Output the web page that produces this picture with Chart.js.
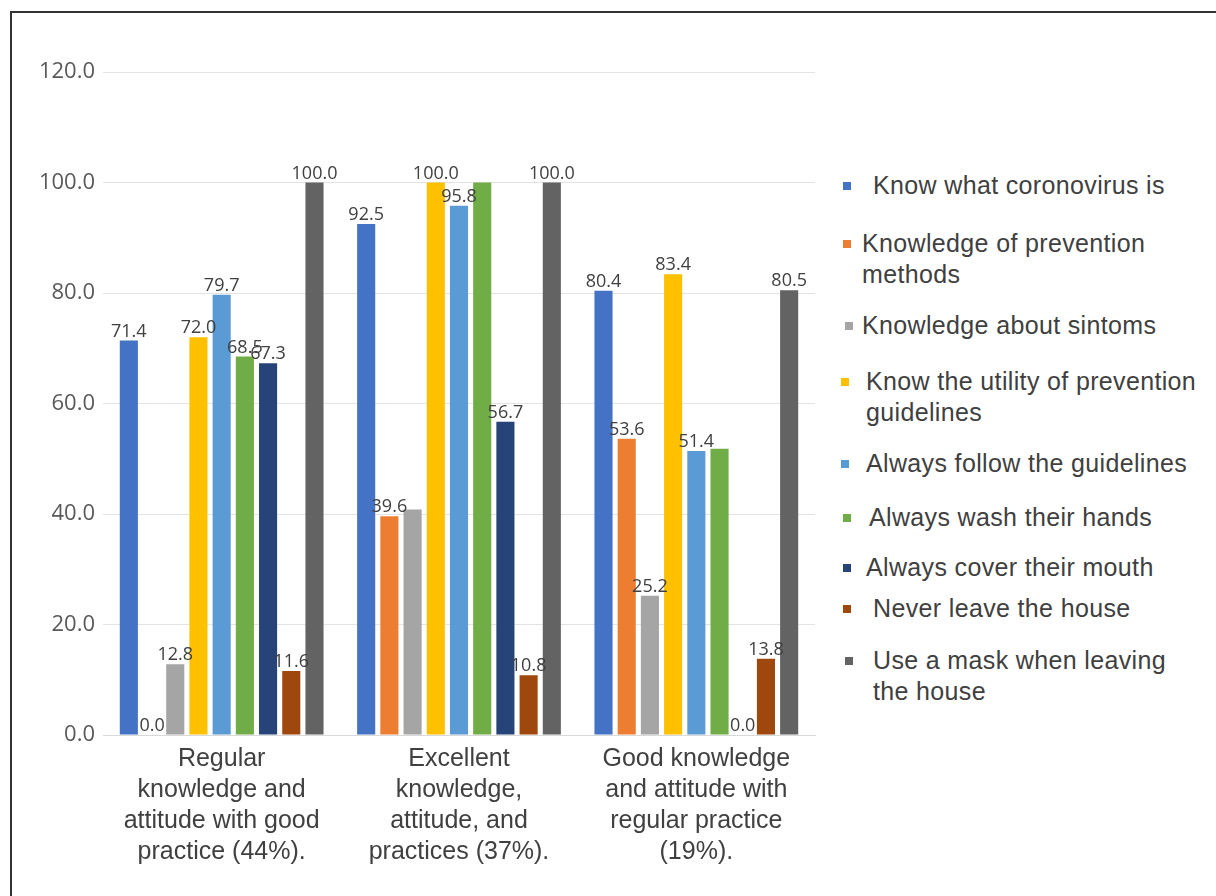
<!DOCTYPE html>
<html>
<head>
<meta charset="utf-8">
<script src="https://cdn.jsdelivr.net/npm/chart.js@4"></script>
<style>
    body { margin: 0; background: #fff; }
    #wrap { position: relative; width: 1216px; height: 896px; overflow: hidden; }
    #frame { position: absolute; left: 10px; top: 11px; width: 1220px; height: 900px; border-left: 2px solid #333; border-top: 2px solid #333; }
    #chartBox { position: absolute; left: 0; top: 0; width: 830px; height: 896px; }
    .legend-item { position: absolute; font-family: "Liberation Sans", Arial, sans-serif; font-size: 25px; line-height: 31px; letter-spacing: 0.35px; color: #404040; white-space: nowrap; }
</style>
</head>
<body>
<div id="wrap">
    <div id="frame"></div>
    <div id="chartBox"><canvas id="chart" width="830" height="896"></canvas></div>
    <div id="legend"></div>
</div>
<script>
const categories = [
    ['Regular', 'knowledge and', 'attitude with good', 'practice (44%).'],
    ['Excellent', 'knowledge,', 'attitude, and', 'practices (37%).'],
    ['Good knowledge', 'and attitude with', 'regular practice', '(19%).']
]

const seriesNames = [
    'Know what coronovirus is',
    'Knowledge of prevention methods',
    'Knowledge about sintoms',
    'Know the utility of prevention guidelines',
    'Always follow the guidelines',
    'Always wash their hands',
    'Always cover their mouth',
    'Never leave the house',
    'Use a mask when leaving the house'
]

const knowCorona = [71.4, 92.5, 80.4]
const knowPrevention = [0.0, 39.6, 53.6]
const knowSymptoms = [12.8, 40.8, 25.2]
const knowUtility = [72.0, 100.0, 83.4]
const followGuidelines = [79.7, 95.8, 51.4]
const washHands = [68.5, 100.0, 51.8]
const coverMouth = [67.3, 56.7, 0.0]
const neverLeave = [11.6, 10.8, 13.8]
const useMask = [100.0, 100.0, 80.5]

const seriesValues = [knowCorona, knowPrevention, knowSymptoms, knowUtility, followGuidelines, washHands, coverMouth, neverLeave, useMask]
const seriesColors = ['#4472C4', '#ED7D31', '#A5A5A5', '#FFC000', '#5B9BD5', '#70AD47', '#264478', '#9E480E', '#636363']

// value labels that the original leaves out: [series, category]
const unlabeled = [[2, 1], [5, 1], [5, 2]]

const yTicks = [0, 20, 40, 60, 80, 100, 120]

// legend layout: label lines, top of first line, marker left, text left
const legendRows = [
    { lines: ['Know what coronovirus is'], top: 170, mx: 843, tx: 873 },
    { lines: ['Knowledge of prevention', 'methods'], top: 228, mx: 843, tx: 862 },
    { lines: ['Knowledge about sintoms'], top: 310, mx: 845, tx: 862 },
    { lines: ['Know the utility of prevention', 'guidelines'], top: 366, mx: 841, tx: 866 },
    { lines: ['Always follow the guidelines'], top: 448, mx: 841, tx: 866 },
    { lines: ['Always wash their hands'], top: 502, mx: 843, tx: 869 },
    { lines: ['Always cover their mouth'], top: 552, mx: 843, tx: 866 },
    { lines: ['Never leave the house'], top: 593, mx: 843, tx: 873 },
    { lines: ['Use a mask when leaving', 'the house'], top: 645, mx: 845, tx: 873 }
]

const legendEl = document.getElementById('legend')
legendRows.forEach((row, i) => {
    const marker = document.createElement('i')
    marker.style.position = 'absolute'
    marker.style.width = '8px'
    marker.style.height = '8px'
    marker.style.background = seriesColors[i]
    marker.style.left = row.mx + 'px'
    marker.style.top = (row.top + 12) + 'px'
    const item = document.createElement('div')
    item.className = 'legend-item'
    item.style.left = row.tx + 'px'
    item.style.top = row.top + 'px'
    item.innerHTML = row.lines.join('<br>')
    legendEl.appendChild(marker)
    legendEl.appendChild(item)
})

const valueLabels = {
    id: 'valueLabels',
    afterDatasetsDraw(chart) {
        const ctx = chart.ctx
        ctx.save()
        ctx.font = '18px "Open Sans", sans-serif'
        ctx.fillStyle = '#404040'
        ctx.textAlign = 'center'
        ctx.textBaseline = 'bottom'
        chart.data.datasets.forEach((ds, si) => {
            const meta = chart.getDatasetMeta(si)
            meta.data.forEach((bar, ci) => {
                if (unlabeled.some(p => p[0] === si && p[1] === ci)) return
                ctx.fillText(ds.data[ci].toFixed(1), bar.x, bar.y)
            })
        })
        ctx.restore()
    }
}

new Chart(document.getElementById('chart'), {
    type: 'bar',
    data: {
        labels: categories,
        datasets: seriesValues.map((vals, i) => ({
            label: seriesNames[i],
            data: vals,
            backgroundColor: seriesColors[i],
            borderWidth: 0,
            categoryPercentage: 0.88,
            barPercentage: 0.78
        }))
    },
    options: {
        responsive: false,
        animation: false,
        layout: { padding: { left: 10, right: 15, top: 72, bottom: 0 } },
        plugins: {
            legend: { display: false },
            tooltip: { enabled: false }
        },
        scales: {
            x: {
                grid: { display: false },
                border: { color: '#d9d9d9', width: 1 },
                ticks: {
                    color: '#404040',
                    font: { family: '"Liberation Sans", Arial, sans-serif', size: 25, lineHeight: 1.24 },
                    padding: 1,
                    maxRotation: 0,
                    autoSkip: false
                },
                afterFit: (scale) => { scale.height = 161 }
            },
            y: {
                min: 0,
                max: 120,
                afterBuildTicks: (scale) => { scale.ticks = yTicks.map(v => ({ value: v })) },
                grid: { color: '#e3e3e3', drawTicks: false },
                border: { display: false },
                ticks: {
                    color: '#595959',
                    font: { family: '"Open Sans", sans-serif', size: 22 },
                    padding: 8,
                    callback: (v) => v.toFixed(1)
                },
                afterFit: (scale) => { scale.width = 93 }
            }
        }
    },
    plugins: [valueLabels]
})
</script>
</body>
</html>
